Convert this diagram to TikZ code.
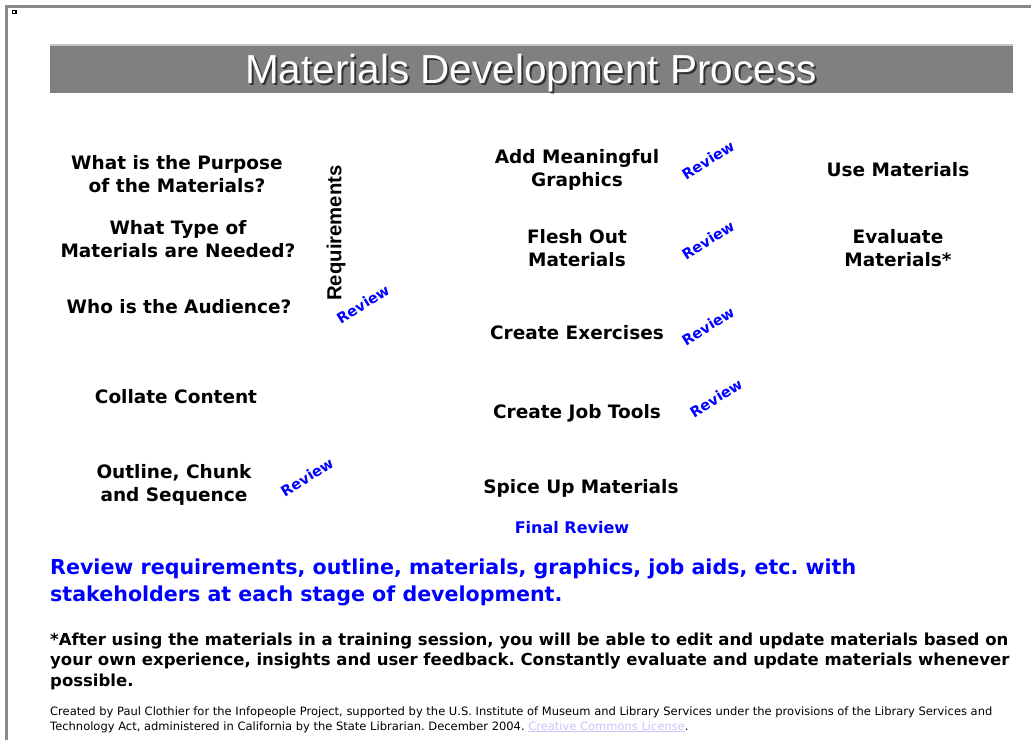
\documentclass[tikz,border=0pt]{standalone}
\usepackage{fontspec}
\setmainfont{DejaVu Sans}
\newfontfamily\headfont{Liberation Sans}
\usetikzlibrary{
  positioning,  % Function "of" (e.g. [below=of x])
}
\frenchspacing
\definecolor{framegray}{HTML}{8A8A8A}
\definecolor{bargray}{HTML}{808080}
\definecolor{barlight}{HTML}{C4C4C4}
\definecolor{revblue}{HTML}{0000FF}
\definecolor{linkblue}{HTML}{C4C4FF}
\newcommand{\rv}{Review}
% multi-line nodes sit on the baseline of their last line
\tikzset{
  stage/.style={
    align=center,
    inner sep=0pt,
    anchor=base,
    font=\fontsize{18.5}{23}\selectfont\bfseries
  },
  rev/.style={
    text=revblue,
    rotate=32,
    inner sep=0pt,
    font=\fontsize{14.5}{16}\selectfont\bfseries
  },
  para/.style={
    align=left,
    inner sep=0pt,
    anchor=base west
  },
  banner/.style={
    inner sep=0pt,
    anchor=base,
    font=\headfont\fontsize{40.5}{44}\selectfont
  }
}

\begin{document}
\begin{tikzpicture}[x=1pt,y=-1pt]
\useasboundingbox (0,0) rectangle (1031,740);
% page frame and the little icon
\fill[framegray] (5,5) rectangle (1031,8);
\fill[framegray] (5,5) rectangle (8,740);
\fill[black] (12,10) rectangle (17,14);
\fill[white] (13,11) rectangle (15,13);
% title bar
\fill[bargray] (50,44) rectangle (1013,93);
\fill[barlight] (50,44) rectangle (1013,45.5);
\node[banner,text=black!80] (titleshadow) at (533,85) {Materials Development Process};
\node[banner,text=white]    (title)       at (531,83) {Materials Development Process};
% left column
\node[stage] (purpose)  at (177,192) {What is the Purpose\\of the Materials?};
\node[stage] (type)     at (178,257) {What Type of\\Materials are Needed?};
\node[stage] (audience) at (179,313) {Who is the Audience?};
\node[rotate=90,inner sep=0pt,font=\headfont\fontsize{20.3}{24}\selectfont\bfseries]
  (req) at (336,233) {Requirements};
\node[rev] (rev0) at (363,304) {\rv};
\node[stage] (collate)  at (176,403) {Collate Content};
\node[stage] (outline)  at (174,501) {Outline, Chunk\\and Sequence};
\node[rev] (rev1) at (307,477) {\rv};
% middle column
\node[stage] (graphics)  at (577,186) {Add Meaningful\\Graphics};
\node[rev] (rev2) at (708,160) {\rv};
\node[stage] (flesh)     at (577,266) {Flesh Out\\Materials};
\node[rev] (rev3) at (708,240) {\rv};
\node[stage] (exercises) at (577,339) {Create Exercises};
\node[rev] (rev4) at (708,326) {\rv};
\node[stage] (jobtools)  at (577,418) {Create Job Tools};
\node[rev] (rev5) at (716,398) {\rv};
\node[stage] (spice)     at (581,493) {Spice Up Materials};
\node[stage,text=revblue,font=\fontsize{16}{18}\selectfont\bfseries]
  (final) at (572,533) {Final Review};
% right column
\node[stage] (use)      at (898,176) {Use Materials};
\node[stage] (evaluate) at (898,266) {Evaluate\\Materials*};
% notes
\node[para,text=revblue,font=\fontsize{20.6}{27.5}\selectfont\bfseries] (note) at (50,601.5)
  {Review requirements, outline, materials, graphics, job aids, etc. with\\
   stakeholders at each stage of development.};
\node[para,font=\fontsize{16.5}{20.5}\selectfont\bfseries] (star) at (50,686)
  {*After using the materials in a training session, you will be able to edit and update materials based on\\
   your own experience, insights and user feedback. Constantly evaluate and update materials whenever\\
   possible.};
\node[para,font=\fontsize{11.5}{15}\selectfont] (credit) at (50,730)
  {Created by Paul Clothier for the Infopeople Project, supported by the U.S. Institute of Museum and Library Services under the provisions of the Library Services and\\
   Technology Act, administered in California by the State Librarian. December 2004. \textcolor{linkblue}{\underline{Creative Commons License}}.};
\end{tikzpicture}
\end{document}
